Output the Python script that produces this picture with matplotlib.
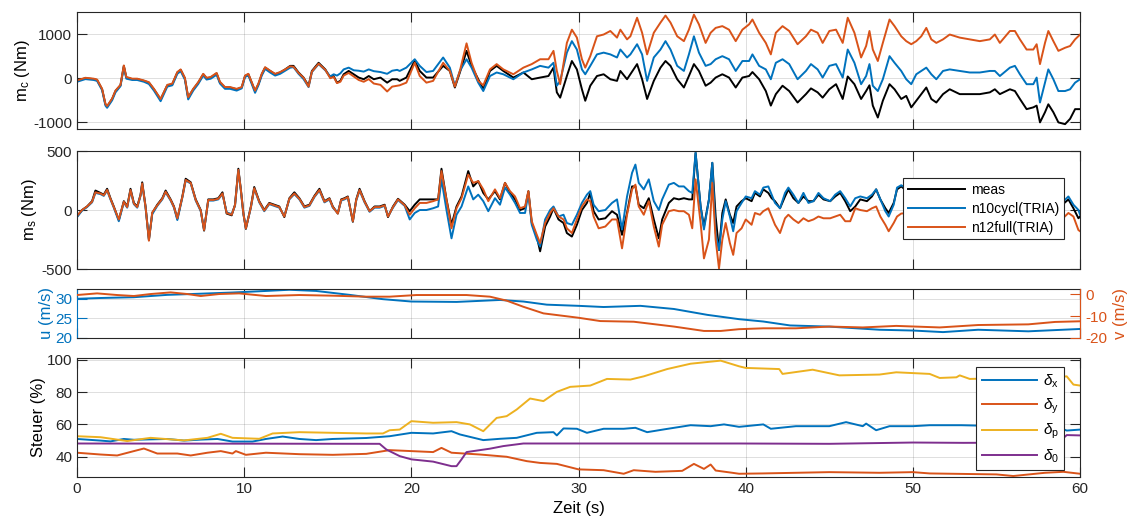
import numpy as np
import matplotlib.pyplot as plt

plt.rcParams['font.family'] = 'Liberation Sans'
plt.rcParams['mathtext.fontset'] = 'custom'
plt.rcParams['mathtext.rm'] = 'Liberation Sans'
plt.rcParams['mathtext.it'] = 'Liberation Sans:italic'
plt.rcParams['axes.unicode_minus'] = False

BLUE = '#0072BD'
ORANGE = '#D95319'
YELLOW = '#EDB120'
PURPLE = '#7E2F8E'
DARK = '#262626'

# ---- m_c (Nm): time, meas, n10cycl(TRIA), n12full(TRIA)
t_mc = [0.0, 0.5, 1.0, 1.2, 1.5, 1.7, 1.8, 2.1, 2.3, 2.6, 2.8, 2.95, 3.3, 3.6, 4.0, 4.3, 4.6, 5.0,
        5.4, 5.7, 6.0, 6.2, 6.45, 6.65, 6.95, 7.25, 7.55, 7.75, 8.0, 8.35, 8.55, 8.85, 9.15, 9.55,
        9.85, 10.05, 10.25, 10.45, 10.65, 10.85, 11.05, 11.25, 11.55, 11.85, 12.15, 12.45, 12.75,
        12.95, 13.25, 13.55, 13.85, 14.05, 14.45, 14.85, 15.15, 15.35, 15.55, 15.75, 15.95, 16.25,
        16.55, 16.85, 17.15, 17.45, 17.75, 18.15, 18.55, 18.85, 19.15,
        19.3, 19.7, 20.2, 20.5, 20.9, 21.3, 21.9, 22.3, 22.6, 22.9, 23.3, 23.6, 24.0, 24.3, 24.7,
        25.1, 25.5, 26.1, 26.7, 27.2, 27.7, 28.2, 28.5, 28.7, 28.9, 29.3, 29.6, 29.9, 30.2, 30.4,
        30.7, 31.1, 31.5, 31.9, 32.3, 32.5, 32.9, 33.1, 33.5, 33.8, 34.1, 34.5, 34.9, 35.2, 35.5,
        35.9, 36.3, 36.6, 36.9, 37.2, 37.6, 37.9, 38.2, 38.6, 39.0, 39.4, 39.8, 40.2, 40.4, 40.8,
        41.2, 41.5, 41.8, 42.2, 42.6, 43.1, 43.6, 43.9, 44.3, 44.6, 45.0, 45.4, 45.8, 46.1, 46.5,
        46.9, 47.2, 47.4, 47.6, 47.9, 48.2, 48.6, 48.9, 49.3, 49.6, 49.9, 50.2, 50.5, 50.8, 51.1,
        51.4, 51.8, 52.2, 52.8, 53.4, 54.0, 54.6, 54.9, 55.2, 55.8, 56.1, 56.4, 56.8, 57.2, 57.4,
        57.6, 57.9, 58.1, 58.4, 58.7, 59.1, 59.4, 59.7, 60.0]
mc_meas = [-60, 0, -20, -40, -250, -590, -640, -470, -290, -160, 280, 15, -20, -20, -60, -100, -250, -480,
           -160, -135, 130, 190, 0, -440, -250, -100, 90, 0, 15, 110, -100, -210, -210, -250,
           -210, 50, 90, -100, -290, -135, 90, 240, 165, 90, 130, 200, 280,
           280, 130, 15, -170, 165, 350, 200, 15, 50, -100, -60, 90, 165,
           90, 15, -23, 50, -23, 15, -100, -23, -23,
           -60, 15, 400, 165, 15, 15, 280, 165, -210, 130, 620, 280, -23, -250, 165,
           280, 165, 15, 130, -23, 15, 50, 240, -320, -440, 50, 390, 200, -250, -510,
           -170, 50, 90, -23, -60, 165, -23, 90, 320, -23, -470, -60, 240, 390, 280,
           -23, -210, 50, 320, 165, -170, -100, 15, 90, 15, -210, 15, 50, 140, -23,
           -290, -620, -360, -170, -290, -550, -360, -230, -320, -440, -250, -135, -470, 40, -135,
           -470, -290, -160, -620, -890, -510, -135, -250, -470, -400, -660, -510, -360, -210, -470,
           -550, -360, -250, -360, -360, -360, -320, -250, -360, -250, -290, -470, -700, -660, -620,
           -1000, -770, -590, -770, -1000, -1040, -920, -700, -700]
mc_n10 = [-80, -20, -40, -60, -270, -620, -670, -500, -320, -180, 250, -10, -40, -40, -80, -130, -280, -520,
          -190, -160, 100, 160, -30, -480, -280, -130, 60, -30, -10, 80, -120, -240, -240, -280,
          -230, 30, 60, -130, -330, -160, 60, 210, 130, 60, 100, 170, 240,
          250, 100, -20, -200, 140, 320, 180, 40, 90, 60, 110, 200, 240,
          180, 170, 150, 200, 160, 140, 100, 170, 190,
          165, 240, 430, 280, 140, 165, 470, 240, -170, 165, 430, 240, -100, -290, 50,
          130, 90, -23, 130, 200, 280, 240, 350, -170, -60, 580, 840, 650, 200, 90,
          280, 540, 580, 540, 470, 650, 470, 540, 770, 540, -60, 470, 650, 840, 650,
          280, 165, 540, 950, 580, 280, 320, 430, 500, 430, 165, 390, 390, 540, 280,
          200, -23, 350, 430, 320, -23, 165, 320, 200, 15, 280, 320, 15, 650, 350,
          -135, 50, 320, -170, -290, -23, 500, 350, 165, -23, -135, 90, 165, 240, 90,
          -23, 165, 200, 165, 130, 130, 165, 165, 50, 240, 280, 90, -135, -135, 15,
          -550, -100, 200, -23, -290, -290, -250, -100, -23]
mc_n12 = [-50, 10, -10, -30, -240, -580, -630, -460, -280, -150, 290, 30, -10, -10, -50, -90, -240, -470,
          -150, -120, 140, 200, 10, -430, -240, -90, 100, 10, 30, 120, -80, -200, -200, -240,
          -200, 60, 100, -90, -280, -120, 100, 250, 170, 100, 140, 200, 270,
          260, 120, 10, -190, 150, 330, 190, 0, 30, -110, -80, 60, 120,
          40, -40, -80, -20, -120, -150, -300, -190, -170,
          -160, -100, 350, 50, -100, -60, 350, 165, -190, 165, 790, 350, -60, -160, 200,
          320, 200, 90, 240, 320, 430, 430, 620, 165, -135, 800, 1100, 920, 430, 240,
          500, 950, 990, 1070, 920, 1100, 880, 950, 1370, 1030, 540, 1030, 1260, 1420, 1260,
          950, 840, 1100, 1440, 1220, 800, 1030, 1140, 1180, 1100, 840, 1100, 1220, 1330, 1030,
          800, 540, 1030, 1180, 1070, 770, 950, 1100, 1030, 800, 1070, 1100, 800, 1370, 1030,
          470, 730, 1070, 650, 390, 800, 1330, 1180, 950, 840, 770, 840, 950, 1140, 880,
          800, 880, 990, 920, 880, 840, 880, 990, 800, 1070, 1070, 880, 650, 650, 770,
          320, 800, 1070, 840, 620, 690, 730, 880, 990]

# ---- m_s (Nm)
t_ms = [0.0, 0.3, 0.6, 0.9, 1.1, 1.4, 1.6, 1.8, 2.0, 2.2, 2.5, 2.8, 3.0, 3.2, 3.4, 3.6, 3.8, 3.9,
        4.1, 4.3, 4.5, 4.8, 5.1, 5.3, 5.6, 5.8, 6.0, 6.3, 6.5, 6.8, 7.1, 7.4, 7.6, 7.85, 8.15,
        8.45, 8.7, 8.95, 9.25, 9.45, 9.65, 9.8, 9.95, 10.1, 10.4, 10.6, 10.9, 11.2, 11.5, 11.8,
        12.1, 12.4, 12.7, 13.0, 13.3, 13.6, 13.9, 14.2, 14.5, 14.8, 15.1, 15.3, 15.6, 15.8, 16.0,
        16.2, 16.5, 16.7, 16.9, 17.2, 17.5, 17.8, 18.1, 18.4, 18.6, 18.9, 19.2, 19.6,
        19.9, 20.2, 20.5, 20.9, 21.3, 21.6, 21.8, 22.1, 22.4, 22.7, 23.0, 23.4, 23.7, 24.0, 24.3,
        24.6, 25.0, 25.3, 25.6, 25.9, 26.2, 26.5, 26.8, 27.0, 27.2, 27.5, 27.7, 28.0, 28.3, 28.5,
        28.8, 29.1, 29.3, 29.6, 29.9, 30.2, 30.5, 30.7, 30.9, 31.2, 31.6, 32.0, 32.3, 32.6, 32.9,
        33.2, 33.4, 33.6, 33.9, 34.2, 34.5, 34.8, 35.0, 35.4, 35.7, 36.0, 36.3, 36.6, 36.8, 37.0,
        37.3, 37.5, 37.8, 38.0, 38.2, 38.4, 38.6, 38.8, 39.05, 39.25, 39.45, 39.75, 40.0, 40.35,
        40.55, 40.85, 41.05, 41.35, 41.55, 41.75, 42.05, 42.35, 42.55, 42.85, 43.15, 43.45, 43.75,
        44.05, 44.35, 44.65, 45.05, 45.35, 45.65, 45.95, 46.25, 46.55, 46.85, 47.25, 47.55, 47.8,
        48.05, 48.35, 48.55, 48.85, 49.05, 49.3, 50.0, 51.0, 52.0, 53.0, 54.0, 55.0, 56.0, 57.0,
        58.0, 58.9, 59.3, 59.6, 59.9, 60.0]
ms_meas = [-55, 0, 30, 75, 165, 145, 130, 180, 100, 30, -85, 75, 30, 180, 60, 30, 130, 235,
           30, -255, -25, 45, 100, 165, 90, 30, -75, 115, 265, 235, 90, 0, -175, 90, 90,
           100, 150, -30, -45, 45, 350, 175, -25, -160, 30, 195, 75, 0, 60, 45,
           30, -60, 100, 150, 100, 30, 45, 120, 180, 75, 100, 30, -30, 90, 100,
           115, -100, 90, 180, 75, -10, 30, 30, 45, -60, 30, 95, 45,
           -10, 45, 90, 90, 90, 90, 350, 90, -125, 30, 115, 330, 200, 245, 145,
           90, 160, 90, 230, 145, 90, 0, 15, 160, -110, -225, -350, -140, -55, 15,
           -80, -110, -195, -225, -125, 0, 60, 145, -10, -80, -70, -10, -40, -210, -25,
           200, 200, 45, 15, 100, -80, -240, -80, 60, 100, 90, 100, 90, 90, 485,
           30, -140, 90, 400, -55, -340, -25, 90, -40, -110, 30, 75, 100, 75,
           145, 115, 175, 145, 100, 75, 15, 115, 175, 100, 60, 115, 75,
           75, 130, 90, 75, 115, 145, 75, -10, 30, 90, 75, 115, 175,
           90, 15, -25, 60, 175, 200, 120, 90, 140, 110, 60, 120, 90, 140,
           60, 40, 90, 15, -70, -55]
ms_n10 = [-60, -5, 25, 65, 145, 135, 120, 165, 90, 20, -95, 65, 20, 165, 50, 20, 120, 220,
          20, -245, -35, 35, 90, 150, 80, 20, -85, 105, 250, 225, 80, -10, -165, 80, 80,
          90, 135, -20, -35, 35, 335, 165, -35, -150, 20, 180, 65, -10, 50, 35,
          20, -50, 90, 135, 90, 20, 35, 110, 165, 65, 90, 20, -25, 80, 90,
          105, -90, 80, 165, 65, -15, 20, 20, 35, -50, 20, 85, 35,
          -80, -25, 0, 0, 15, 30, 260, 0, -240, -40, 30, 200, 90, 130, 75,
          -10, 100, 45, 190, 130, 60, -25, -25, 145, -125, -250, -310, -80, 0, 30,
          -55, -40, -110, -125, -40, 60, 130, 160, 45, -10, 0, 60, 90, -165, 115,
          315, 385, 230, 175, 260, 75, 0, 90, 215, 230, 200, 200, 160, 145, 485,
          30, -165, 90, 400, -195, -340, -80, 75, -55, -180, -10, 60, 115, 100,
          160, 130, 190, 200, 130, 60, 15, 145, 190, 130, 60, 145, 60,
          75, 145, 100, 75, 130, 160, 100, 30, 100, 115, 100, 130, 175,
          90, -10, -55, 45, 190, 210, 150, 130, 170, 150, 90, 160, 120, 170,
          90, 60, 115, 45, 0, -40]
ms_n12 = [-50, 0, 30, 70, 150, 140, 125, 170, 95, 25, -80, 70, 25, 170, 55, 25, 125, 225,
          25, -260, -20, 40, 95, 155, 85, 25, -70, 110, 255, 230, 85, -5, -170, 85, 85,
          95, 140, -25, -40, 40, 340, 170, -30, -155, 25, 185, 70, -5, 55, 40,
          25, -55, 95, 140, 95, 25, 40, 115, 170, 70, 95, 25, -30, 85, 95,
          110, -95, 85, 170, 70, -10, 25, 25, 40, -55, 25, 90, 40,
          -40, 15, 60, 60, 75, 90, 330, 90, -155, 15, 100, 300, 230, 245, 175,
          75, 175, 100, 230, 160, 115, 15, 30, 160, -95, -210, -280, -110, -25, 15,
          -55, -80, -155, -195, -80, 30, 90, 75, -55, -155, -140, -80, -80, -325, -40,
          175, 215, 30, -40, 75, -140, -310, -125, -10, 0, -10, -10, -40, -155, 260,
          -110, -410, -250, 230, -250, -495, -250, -110, -280, -380, -195, -155, -80, -125,
          -25, -40, -10, 15, -55, -125, -195, -70, -40, -80, -110, -70, -95,
          -80, -55, -70, -70, -55, -40, -95, -95, 15, 0, -10, 15, 30,
          -55, -125, -180, -110, -55, -30, -20, -60, -30, -80, -120, -40, -70, -30,
          -100, -80, -25, -55, -170, -180]

# ---- u (m/s) left axis, v (m/s) right axis
t_u = [0.0, 1.4, 3.4, 5.4, 7.4, 9.3, 11.3, 12.7, 14.3, 16.3, 18.3, 20.0, 22.7, 25.3, 26.7, 28.1,
       30.0, 31.5, 33.7, 35.7, 37.7, 39.6, 41.05, 42.65, 45.0, 48.0, 50.0, 51.8, 53.9, 56.9, 60.0]
u_val = [30.0, 30.2, 30.4, 31.0, 31.3, 31.6, 32.0, 32.3, 32.0, 31.0, 29.9, 29.3, 29.2, 29.7, 29.3, 28.5,
         28.2, 27.9, 28.2, 27.4, 25.9, 24.8, 24.2, 23.2, 22.9, 22.1, 21.9, 21.5, 22.1, 21.7, 22.3]
t_v = [0.0, 1.2, 2.4, 3.4, 4.4, 5.6, 6.6, 7.4, 8.5, 9.7, 11.3, 13.3, 15.3, 17.3, 18.7, 20.3, 23.3,
       24.7, 25.7, 26.7, 27.9, 30.0, 31.3, 33.3, 35.7, 37.5, 38.5, 39.6, 41.05, 43.0, 45.0, 47.0,
       49.0, 51.6, 53.9, 56.9, 58.5, 60.0]
v_val = [-0.45, 0.3, -0.45, -0.9, 0.0, 0.75, 0.0, -0.9, 0.0, 0.3, -0.9, -0.45, -0.75, -1.2, -1.2,
         -0.45, -0.45, -1.2, -3.0, -5.8, -8.8, -10.8, -12.3, -12.6, -14.8, -16.8, -16.8, -16.0,
         -15.6, -15.6, -14.8, -15.2, -14.5, -15.2, -14.1, -13.8, -12.7, -12.4]

# ---- Steuer (%)
t_dx = [0, 1.4, 2.0, 2.8, 3.4, 5.4, 6.4, 7.4, 8.4, 9.3, 10.5, 11.3, 12.3, 13.3, 14.3, 15.3, 17.3,
        18.7, 20.0, 21.3, 22.4, 22.9, 24.3, 25.3, 26.3, 27.5, 28.5, 28.7, 29.1, 29.9, 30.5, 31.5,
        32.7, 33.4, 34.1, 35.1, 36.7, 37.9, 38.7, 39.6, 40.0, 41.05, 41.5, 43.0, 45.0, 46.0, 47.0,
        47.2, 47.8, 48.6, 50.0, 51.0, 52.9, 55.0, 57.0, 58.5, 59.2, 60.0]
dx_val = [51, 50, 49.5, 51, 50.5, 51, 50, 50.6, 51, 49.4, 49.4, 51, 52.5, 51, 50.3, 51, 51.6,
          52.7, 54.8, 54.4, 55.8, 53.8, 50.3, 51.1, 51.7, 54.8, 55.2, 53.2, 57.5, 57.3, 54.8, 57.3,
          57.3, 57.9, 55.2, 56.9, 59.5, 58.9, 60.0, 58.5, 58.9, 60.0, 57.3, 58.9, 58.9, 61.4, 58.9,
          60.5, 56.4, 58.9, 58.9, 59.5, 59.5, 59.0, 59.3, 59.0, 56.2, 56.8]
t_dy = [0, 1.4, 2.4, 3.4, 4.0, 4.8, 6.0, 6.8, 7.8, 8.6, 9.3, 9.5, 10.1, 11.3, 13.3, 15.3, 17.3,
        18.7, 20.0, 21.3, 21.8, 22.4, 24.1, 25.7, 26.9, 27.7, 28.7, 30.0, 31.5, 32.7, 33.3, 34.6,
        36.2, 36.9, 37.5, 37.9, 38.2, 39.2, 39.6, 41.0, 45.0, 48.0, 50.0, 51.0, 55.0, 56.0, 57.9,
        59.0, 60.0]
dy_val = [42.5, 41.4, 40.8, 43.5, 45.1, 42.0, 42.0, 40.8, 42.5, 43.5, 42.0, 43.5, 41.2, 42.5, 41.6,
          41.2, 41.8, 44.1, 43.5, 42.9, 45.5, 42.5, 41.4, 40.0, 37.3, 36.2, 35.6, 32.2, 31.7, 29.5,
          31.7, 30.7, 31.3, 35.6, 32.5, 35.2, 31.5, 30.1, 29.5, 29.7, 30.5, 30.1, 30.5, 29.7, 29.1,
          28.1, 30.1, 30.7, 29.5]
t_dp = [0, 1.4, 3.0, 4.4, 6.4, 7.8, 8.6, 9.3, 10.9, 11.7, 13.3, 15.3, 17.3, 18.3, 18.7, 19.3, 20.0,
        21.3, 22.7, 23.5, 24.3, 25.1, 25.7, 26.3, 27.1, 27.9, 28.7, 29.5, 30.7, 31.7, 33.1, 33.9,
        35.3, 36.7, 38.5, 39.6, 40.0, 42.0, 42.2, 44.0, 45.6, 48.0, 49.0, 51.0, 51.6, 52.6, 52.8,
        53.4, 55.0, 57.0, 58.5, 59.2, 59.6, 60.0]
dp_val = [52.7, 52.1, 49.7, 51.7, 50.1, 51.7, 54.2, 51.7, 51.1, 54.4, 55.2, 54.8, 54.4, 54.4, 56.4,
          56.8, 62.0, 61.0, 61.4, 60.0, 55.8, 64.0, 65.1, 69.2, 76.0, 74.4, 80.1, 83.2, 84.0, 88.1,
          87.7, 89.7, 94.2, 97.5, 99.4, 95.9, 94.9, 94.2, 91.2, 93.8, 90.3, 90.8, 92.2, 91.2, 88.7,
          89.1, 90.3, 88.1, 88.5, 89.5, 89.0, 89.7, 84.6, 84.0]
t_d0 = [0, 18.1, 18.5, 19.3, 20.0, 21.3, 22.4, 22.7, 23.0, 23.3, 24.1, 24.7, 25.5, 26.7, 39.6, 45.0,
        50.0, 53.0, 58.7, 59.2, 60.0]
d0_val = [48.2, 48.0, 44.5, 40.4, 38.4, 37.0, 34.2, 34.2, 38.4, 42.9, 44.1, 45.0, 46.6, 48.2, 48.2,
          48.0, 48.8, 48.6, 48.8, 53.4, 53.2]


def style(ax):
    ax.set_xlim(0, 60)
    ax.set_xticks(range(0, 61, 10))
    ax.set_axisbelow(True)
    ax.grid(True, color=DARK, alpha=0.15, lw=0.7)
    ax.tick_params(direction='in', length=7, width=0.8, top=True, right=True,
                   colors=DARK, labelsize=11)
    for s in ax.spines.values():
        s.set_color(DARK)
        s.set_linewidth(0.8)


fig = plt.figure(figsize=(11.36, 5.24), dpi=100)
L, W = 0.0678, 0.883
ax1 = fig.add_axes([L, 0.7538, W, 0.2233])
ax2 = fig.add_axes([L, 0.4866, W, 0.2252])
ax3 = fig.add_axes([L, 0.355, W, 0.0935])
ax4 = fig.add_axes([L, 0.0897, W, 0.227])
lw = 1.4

# m_c
style(ax1)
ax1.plot(t_mc, mc_meas, color='k', lw=lw)
ax1.plot(t_mc, mc_n10, color=BLUE, lw=lw)
ax1.plot(t_mc, mc_n12, color=ORANGE, lw=lw)
ax1.set_ylim(-1150, 1500)
ax1.set_yticks([-1000, 0, 1000])
ax1.set_ylabel(r'm$_{\mathrm{c}}$ (Nm)', fontsize=12, labelpad=0.5)
ax1.tick_params(labelbottom=False)

# m_s
style(ax2)
ax2.plot(t_ms, ms_meas, color='k', lw=lw, label='meas')
ax2.plot(t_ms, ms_n10, color=BLUE, lw=lw, label='n10cycl(TRIA)')
ax2.plot(t_ms, ms_n12, color=ORANGE, lw=lw, label='n12full(TRIA)')
ax2.set_ylim(-500, 500)
ax2.set_yticks([-500, 0, 500])
ax2.set_ylabel(r'm$_{\mathrm{s}}$ (Nm)', fontsize=12, labelpad=1.8)
ax2.tick_params(labelbottom=False)
leg = ax2.legend(loc='upper right', bbox_to_anchor=(0.984, 0.771), fontsize=10,
                 fancybox=False, framealpha=1, edgecolor=DARK, handlelength=4.1,
                 handletextpad=0.45, borderpad=0.35, labelspacing=0.35, borderaxespad=0)
leg.get_frame().set_linewidth(0.8)

# u / v
style(ax3)
ax3.plot(t_u, u_val, color=BLUE, lw=lw)
ax3.set_ylim(20, 32.5)
ax3.set_yticks([20, 25, 30])
ax3.tick_params(axis='y', colors=BLUE, right=False)
ax3.spines['left'].set_color(BLUE)
ax3.set_ylabel('u (m/s)', color=BLUE, fontsize=12, labelpad=0.5)
ax3.tick_params(labelbottom=False)
ax3r = ax3.twinx()
ax3r.plot(t_v, v_val, color=ORANGE, lw=lw)
ax3r.set_ylim(-20, 2.3)
ax3r.set_yticks([-20, -10, 0])
ax3r.tick_params(axis='y', direction='in', length=7, width=0.8, colors=ORANGE, labelsize=11)
for s in ax3r.spines.values():
    s.set_visible(False)
ax3r.spines['right'].set_visible(True)
ax3r.spines['right'].set_color(ORANGE)
ax3r.spines['right'].set_linewidth(0.8)
ax3r.set_ylabel('v (m/s)', color=ORANGE, fontsize=12)

# Steuer
style(ax4)
ax4.plot(t_dx, dx_val, color=BLUE, lw=lw, label=r'$\delta_{\mathrm{x}}$')
ax4.plot(t_dy, dy_val, color=ORANGE, lw=lw, label=r'$\delta_{\mathrm{y}}$')
ax4.plot(t_dp, dp_val, color=YELLOW, lw=lw, label=r'$\delta_{\mathrm{p}}$')
ax4.plot(t_d0, d0_val, color=PURPLE, lw=lw, label=r'$\delta_{\mathrm{0}}$')
ax4.set_ylim(27.5, 101)
ax4.set_yticks([40, 60, 80, 100])
ax4.set_ylabel('Steuer (%)', fontsize=12, labelpad=0.5)
ax4.set_xlabel('Zeit (s)', fontsize=12)
leg4 = ax4.legend(loc='upper right', bbox_to_anchor=(0.984, 0.924), fontsize=11,
                  fancybox=False, framealpha=1, edgecolor=DARK, handlelength=3.6,
                  handletextpad=0.4, borderpad=0.35, labelspacing=0.42, borderaxespad=0)
leg4.get_frame().set_linewidth(0.8)

fig.savefig('out.png', dpi=100, facecolor='white')
